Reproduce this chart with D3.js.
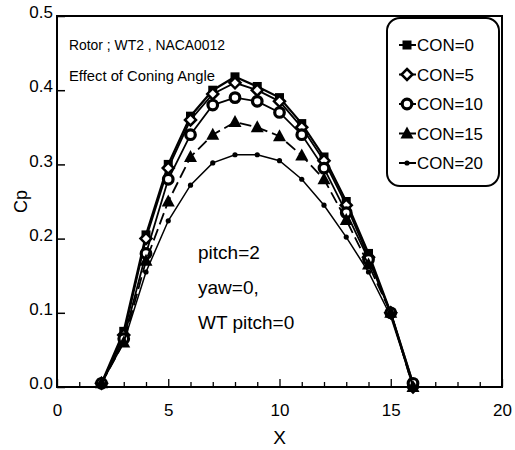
<!DOCTYPE html>
<html>
<head>
<meta charset="utf-8">
<script src="https://cdn.jsdelivr.net/npm/d3@7"></script>
<style>
  body { margin: 0; background: #fff; }
  text { font-family: "Liberation Sans", Arial, sans-serif; fill: #000; }
</style>
</head>
<body>
<div id="chart"></div>
<script>
// x stations
const xs = [2, 3, 4, 5, 6, 7, 8, 9, 10, 11, 12, 13, 14, 15, 16];

// Cp values, one array per coning angle
const con0  = [0.005, 0.075, 0.205, 0.300, 0.365, 0.400, 0.418, 0.405, 0.390, 0.355, 0.310, 0.250, 0.180, 0.100, 0.005];
const con5  = [0.005, 0.070, 0.200, 0.295, 0.360, 0.395, 0.410, 0.400, 0.385, 0.350, 0.305, 0.245, 0.175, 0.100, 0.000];
const con10 = [0.005, 0.065, 0.180, 0.280, 0.340, 0.380, 0.390, 0.385, 0.370, 0.340, 0.295, 0.235, 0.172, 0.100, 0.005];
const con15 = [0.005, 0.060, 0.170, 0.250, 0.310, 0.340, 0.357, 0.350, 0.338, 0.312, 0.280, 0.225, 0.165, 0.100, 0.000];
const con20 = [0.005, 0.060, 0.155, 0.224, 0.272, 0.302, 0.313, 0.313, 0.305, 0.280, 0.245, 0.202, 0.155, 0.095, 0.003];

const seriesNames = ["CON=0", "CON=5", "CON=10", "CON=15", "CON=20"];
const seriesVals = [con0, con5, con10, con15, con20];
const xTicks = [0, 5, 10, 15, 20];
const yTicks = [0.0, 0.1, 0.2, 0.3, 0.4, 0.5];

const W = 515, H = 450;
const m = { left: 57, top: 16, right: 13, bottom: 63 };

const svg = d3.select("#chart").append("svg")
    .attr("width", W).attr("height", H);

const x = d3.scaleLinear().domain([0, 20]).range([m.left, W - m.right]);
const y = d3.scaleLinear().domain([0, 0.5]).range([H - m.bottom, m.top]);

// frame
svg.append("rect")
    .attr("x", x(0)).attr("y", y(0.5))
    .attr("width", x(20) - x(0)).attr("height", y(0) - y(0.5))
    .attr("fill", "none").attr("stroke", "#000").attr("stroke-width", 2);

// x axis, ticks pointing inward
const xAxis = svg.append("g").attr("transform", `translate(0,${y(0)})`);
xAxis.call(d3.axisBottom(x).tickValues(d3.range(0, 21, 1)).tickSize(-6).tickFormat(""))
    .call(g => g.select(".domain").remove());
xAxis.selectAll(".tick line").attr("stroke-width", 1.3)
    .attr("y2", d => d % 5 === 0 ? -8 : -5);
xAxis.selectAll(".tick")
    .filter(d => xTicks.includes(d))
    .append("text")
    .attr("y", 29).attr("text-anchor", "middle")
    .style("font-size", "17px")
    .text(d => d);

// y axis
const yAxis = svg.append("g").attr("transform", `translate(${x(0)},0)`);
yAxis.call(d3.axisLeft(y).tickValues(yTicks).tickSize(-8).tickFormat(d3.format(".1f")))
    .call(g => g.select(".domain").remove());
yAxis.selectAll(".tick line").attr("stroke-width", 1.5);
yAxis.selectAll(".tick text")
    .attr("x", -4).attr("dy", "0.1em")
    .style("font-size", "17px");

// axis titles
svg.append("text")
    .attr("transform", `translate(27,${(y(0) + y(0.5)) / 2}) rotate(-90)`)
    .attr("text-anchor", "middle")
    .style("font-size", "18px")
    .text("Cp");
svg.append("text")
    .attr("x", x(10)).attr("y", 444)
    .attr("text-anchor", "middle")
    .style("font-size", "19px")
    .text("X");

// symbols
function drawSymbol(g, k, cx, cy) {
  if (k === 0) {
    g.append("rect").attr("x", cx - 4.5).attr("y", cy - 4.5).attr("width", 9).attr("height", 9).attr("fill", "#000");
  } else if (k === 1) {
    g.append("path").attr("d", `M${cx},${cy - 5.5}L${cx + 5.5},${cy}L${cx},${cy + 5.5}L${cx - 5.5},${cy}Z`)
      .attr("fill", "#fff").attr("stroke", "#000").attr("stroke-width", 2.5);
  } else if (k === 2) {
    g.append("circle").attr("cx", cx).attr("cy", cy).attr("r", 4.8)
      .attr("fill", "#fff").attr("stroke", "#000").attr("stroke-width", 3.2);
  } else if (k === 3) {
    g.append("path").attr("d", `M${cx},${cy - 7}L${cx + 6.5},${cy + 5}L${cx - 6.5},${cy + 5}Z`).attr("fill", "#000");
  } else {
    g.append("circle").attr("cx", cx).attr("cy", cy).attr("r", 2.6).attr("fill", "#000");
  }
}

const dashes = [null, null, null, "12,5", null];
const widths = [2.2, 1.8, 1.8, 1.8, 1.5];

const line = d3.line().x((d, i) => x(xs[i])).y(d => y(d));

seriesVals.forEach((vals, k) => {
  const g = svg.append("g");
  g.append("path")
    .attr("d", line(vals))
    .attr("fill", "none").attr("stroke", "#000")
    .attr("stroke-width", widths[k])
    .attr("stroke-dasharray", dashes[k]);
  vals.forEach((v, i) => drawSymbol(g, k, x(xs[i]), y(v)));
});

// legend
const lg = svg.append("g");
lg.append("rect")
    .attr("x", 387).attr("y", 18).attr("width", 112).attr("height", 168)
    .attr("rx", 13).attr("ry", 13)
    .attr("fill", "#fff").attr("stroke", "#000").attr("stroke-width", 2);
const legY = d3.scalePoint().domain(seriesNames).range([45, 163]);
seriesNames.forEach((name, k) => {
  const cy = legY(name);
  lg.append("line").attr("x1", 399).attr("x2", 416).attr("y1", cy).attr("y2", cy)
    .attr("stroke", "#000").attr("stroke-width", 2);
  drawSymbol(lg, k, 407, cy);
  lg.append("text").attr("x", 417).attr("y", cy + 6)
    .style("font-size", "17px")
    .attr("textLength", name.length === 5 ? 57 : 66)
    .attr("lengthAdjust", "spacingAndGlyphs")
    .text(name);
});

// annotations
svg.append("text").attr("x", 69).attr("y", 50).style("font-size", "15px")
    .attr("textLength", 156).attr("lengthAdjust", "spacingAndGlyphs")
    .text("Rotor ; WT2 , NACA0012");
svg.append("text").attr("x", 69).attr("y", 81).style("font-size", "15px")
    .attr("textLength", 146).attr("lengthAdjust", "spacingAndGlyphs")
    .text("Effect of Coning Angle");
svg.append("text").attr("x", 198).attr("y", 259).style("font-size", "19px").text("pitch=2");
svg.append("text").attr("x", 198).attr("y", 294).style("font-size", "19px").text("yaw=0,");
svg.append("text").attr("x", 198).attr("y", 329).style("font-size", "19px").text("WT pitch=0");
</script>
</body>
</html>
